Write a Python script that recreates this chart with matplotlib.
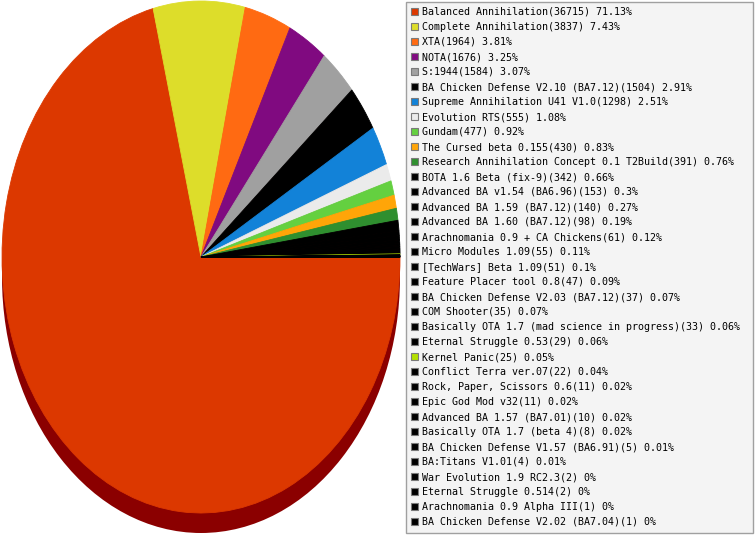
import matplotlib
matplotlib.use("Agg")
import matplotlib.pyplot as plt
from matplotlib.patches import Ellipse, Rectangle
from matplotlib.transforms import Affine2D

names = [
    "Balanced Annihilation", "Complete Annihilation", "XTA", "NOTA", "S:1944",
    "BA Chicken Defense V2.10 (BA7.12)", "Supreme Annihilation U41 V1.0",
    "Evolution RTS", "Gundam", "The Cursed beta 0.155",
    "Research Annihilation Concept 0.1 T2Build", "BOTA 1.6 Beta (fix-9)",
    "Advanced BA v1.54 (BA6.96)", "Advanced BA 1.59 (BA7.12)",
    "Advanced BA 1.60 (BA7.12)", "Arachnomania 0.9 + CA Chickens",
    "Micro Modules 1.09", "[TechWars] Beta 1.09", "Feature Placer tool 0.8",
    "BA Chicken Defense V2.03 (BA7.12)", "COM Shooter",
    "Basically OTA 1.7 (mad science in progress)", "Eternal Struggle 0.53",
    "Kernel Panic", "Conflict Terra ver.07", "Rock, Paper, Scissors 0.6",
    "Epic God Mod v32", "Advanced BA 1.57 (BA7.01)",
    "Basically OTA 1.7 (beta 4)", "BA Chicken Defense V1.57 (BA6.91)",
    "BA:Titans V1.01", "War Evolution 1.9 RC2.3", "Eternal Struggle 0.514",
    "Arachnomania 0.9 Alpha III", "BA Chicken Defense V2.02 (BA7.04)",
]
counts = [36715, 3837, 1964, 1676, 1584, 1504, 1298, 555, 477, 430, 391, 342,
          153, 140, 98, 61, 55, 51, 47, 37, 35, 33, 29, 25, 22, 11, 11, 10, 8,
          5, 4, 2, 2, 1, 1]
percents = ["71.13", "7.43", "3.81", "3.25", "3.07", "2.91", "2.51", "1.08",
            "0.92", "0.83", "0.76", "0.66", "0.3", "0.27", "0.19", "0.12",
            "0.11", "0.1", "0.09", "0.07", "0.07", "0.06", "0.06", "0.05",
            "0.04", "0.02", "0.02", "0.02", "0.02", "0.01", "0.01", "0", "0",
            "0", "0"]
colors = ["#DC3800", "#DDDD2A", "#FF6A12", "#800A80", "#A0A0A0", "#000000",
          "#1282D8", "#EBEBEB", "#64D040", "#FFA508", "#2F8F2F"] + \
         ["#000000"] * 12 + ["#B4E000"] + ["#000000"] * 11

W, H = 755, 535
fig = plt.figure(figsize=(W / 100, H / 100), dpi=100)
fig.patch.set_facecolor("white")

# pie geometry in pixels
cx, cy, rx, ry = 201, 257, 199, 256
shadow = 20
ax = fig.add_axes([0, 0, 1, 1])
wedges, _ = ax.pie(counts, colors=colors, startangle=0, counterclock=False,
                   radius=1, frame=False)
for w, col in zip(wedges, colors):
    w.set_edgecolor(col)
    w.set_linewidth(0.6)
ax.add_patch(Ellipse((0, -shadow / ry), 2, 2, facecolor="#8B0000",
                     edgecolor="none", zorder=0))
ax.set_aspect("auto")
ax.set_xlim(-cx / rx, (W - cx) / rx)
ax.set_ylim(-(H - cy) / ry, cy / ry)
ax.axis("off")

# legend in pixel coordinates
pix = Affine2D().scale(1 / W, -1 / H).translate(0, 1) + fig.transFigure
fig.patches.append(Rectangle((405.5, 1.5), 347.5, 531.5, transform=pix,
                             facecolor="#F4F4F4", edgecolor="#A0A0A0",
                             linewidth=1.0, figure=fig, zorder=1))
for i, (n, c, p, col) in enumerate(zip(names, counts, percents, colors)):
    yc = 11.5 + 15 * i
    fig.patches.append(Rectangle((410.5, yc - 3.8), 7.5, 7.5, transform=pix,
                                 facecolor=col, edgecolor="#7A7A7A",
                                 linewidth=0.8, figure=fig, zorder=2))
    fig.text(422, yc + 0.5, f"{n}({c}) {p}%", transform=pix,
             fontsize=7.2, family="DejaVu Sans Mono", va="center", ha="left",
             color="#000000", zorder=3)

fig.savefig("out.png", dpi=100)
